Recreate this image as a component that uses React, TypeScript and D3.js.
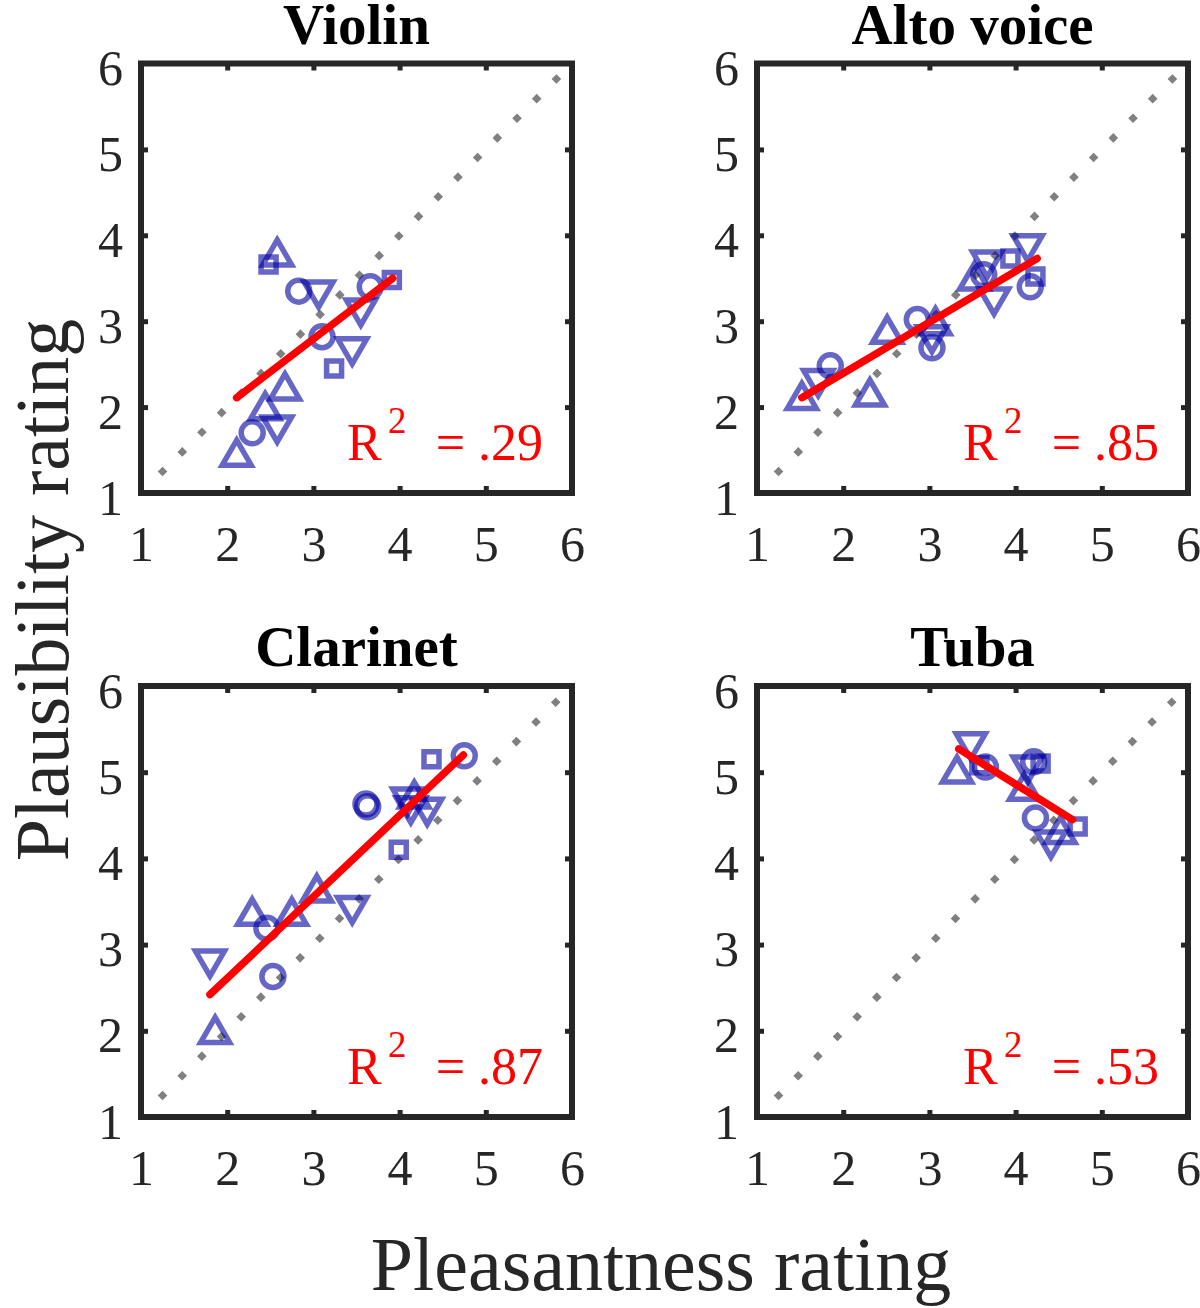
import { useEffect, useRef } from "react";
import * as d3 from "d3";

type Mark = "o" | "s" | "^" | "v";
type Pt = [number, number, Mark];

// x = pleasantness, y = plausibility, marker type
const violinPts: Pt[] = [
  [2.58, 3.8, "^"], [2.48, 3.66, "s"], [2.83, 3.35, "o"], [3.06, 3.31, "v"],
  [3.66, 3.4, "o"], [3.91, 3.48, "s"], [3.55, 3.1, "v"], [3.1, 2.82, "o"],
  [3.45, 2.65, "v"], [3.24, 2.45, "s"], [2.67, 2.24, "^"], [2.44, 2.01, "^"],
  [2.58, 1.74, "v"], [2.29, 1.7, "o"], [2.11, 1.47, "^"],
];
const altoPts: Pt[] = [
  [1.52, 2.13, "^"], [1.71, 2.28, "v"], [1.85, 2.48, "o"], [2.31, 2.17, "^"],
  [2.51, 2.9, "^"], [2.86, 3.02, "o"], [3.07, 3.0, "^"], [3.03, 2.79, "v"],
  [3.03, 2.69, "o"], [3.52, 3.52, "^"], [3.63, 3.54, "o"], [3.67, 3.66, "v"],
  [3.94, 3.73, "s"], [4.14, 3.85, "v"], [3.75, 3.23, "v"], [4.23, 3.52, "s"],
  [4.17, 3.4, "o"],
];
const clarinetPts: Pt[] = [
  [4.75, 5.19, "o"], [4.37, 5.15, "s"], [3.61, 4.63, "o"], [3.63, 4.6, "o"],
  [4.17, 4.74, "^"], [4.09, 4.66, "v"], [4.13, 4.56, "v"], [4.32, 4.54, "v"],
  [3.99, 4.1, "s"], [3.04, 3.65, "^"], [3.45, 3.4, "v"], [2.75, 3.38, "^"],
  [2.29, 3.38, "^"], [2.46, 3.19, "o"], [1.8, 2.78, "v"], [2.53, 2.63, "o"],
  [1.86, 2.01, "^"],
];
const tubaPts: Pt[] = [
  [3.48, 5.3, "v"], [3.32, 5.03, "^"], [3.58, 5.08, "s"], [3.65, 5.06, "o"],
  [4.14, 5.03, "v"], [4.21, 5.12, "o"], [4.29, 5.1, "s"], [4.1, 4.83, "^"],
  [4.23, 4.47, "o"], [4.52, 4.33, "^"], [4.72, 4.37, "s"], [4.41, 4.16, "v"],
];

// regression line end points
const violinFit = [[2.11, 2.11], [3.92, 3.5]];
const altoFit = [[1.52, 2.11], [4.25, 3.73]];
const clarinetFit = [[1.8, 2.42], [4.74, 5.2]];
const tubaFit = [[3.34, 5.27], [4.66, 4.45]];

const titles = ["Violin", "Alto voice", "Clarinet", "Tuba"];
const r2Labels = [".29", ".85", ".87", ".53"];
const ticks = [1, 2, 3, 4, 5, 6];

const pointSets = [violinPts, altoPts, clarinetPts, tubaPts];
const fitSets = [violinFit, altoFit, clarinetFit, tubaFit];

const FONT = "'Liberation Serif', 'Times New Roman', Times, serif";
const AXIS = "#262626";
const BLUE = "#0000a0";

function markerPath(m: Mark) {
  if (m === "^") return "M0,-12.5L14.5,12.5L-14.5,12.5Z";
  if (m === "v") return "M0,12.5L14.5,-12.5L-14.5,-12.5Z";
  if (m === "s") return "M-7.5,-7.5H7.5V7.5H-7.5Z";
  return "M11,0A11,11 0 1,1 -11,0A11,11 0 1,1 11,0Z";
}

export default function App() {
  const ref = useRef<SVGSVGElement | null>(null);

  useEffect(() => {
    const svg = d3.select(ref.current);
    svg.selectAll("*").remove();
    const width = 1200;
    const height = 1308;
    svg.attr("width", width).attr("height", height).attr("viewBox", `0 0 ${width} ${height}`);

    const cols = [[141, 572], [757, 1188]];
    const rows = [[63.5, 493], [686, 1117]];

    pointSets.forEach((pts, i) => {
      const [x0, x1] = cols[i % 2];
      const [y0, y1] = rows[Math.floor(i / 2)];
      const x = d3.scaleLinear().domain([1, 6]).range([x0, x1]);
      const y = d3.scaleLinear().domain([1, 6]).range([y1, y0]);
      const g = svg.append("g");

      // identity line (dotted)
      g.append("line")
        .attr("x1", x(1.2)).attr("y1", y(1.2))
        .attr("x2", x(6)).attr("y2", y(6))
        .attr("stroke", "#808080")
        .attr("stroke-width", 6.8)
        .attr("stroke-dasharray", "6.8 21")
        .attr("stroke-dashoffset", -2.7);

      // markers
      g.selectAll("path.mk")
        .data(pts)
        .enter()
        .append("path")
        .attr("class", "mk")
        .attr("d", (d) => markerPath(d[2]))
        .attr("transform", (d) => `translate(${x(d[0])},${y(d[1])})`)
        .attr("fill", "none")
        .attr("stroke", BLUE)
        .attr("stroke-opacity", 0.6)
        .attr("stroke-width", 5.5)
        .attr("stroke-linejoin", "miter");

      // fit line
      const fit = fitSets[i];
      g.append("line")
        .attr("x1", x(fit[0][0])).attr("y1", y(fit[0][1]))
        .attr("x2", x(fit[1][0])).attr("y2", y(fit[1][1]))
        .attr("stroke", "#ff0000")
        .attr("stroke-width", 7.5)
        .attr("stroke-linecap", "round");

      // frame
      g.append("rect")
        .attr("x", x0).attr("y", y0)
        .attr("width", x1 - x0).attr("height", y1 - y0)
        .attr("fill", "none")
        .attr("stroke", AXIS)
        .attr("stroke-width", 6);

      const styleAxis = (a: d3.Selection<SVGGElement, unknown, null, undefined>) => {
        a.select(".domain").remove();
        a.selectAll(".tick line").attr("stroke", AXIS).attr("stroke-width", 5);
        a.selectAll(".tick text")
          .attr("fill", AXIS)
          .style("font-family", FONT)
          .style("font-size", "50px");
      };
      const fmt = d3.format("d");

      g.append("g")
        .attr("transform", `translate(0,${y1})`)
        .call(d3.axisBottom(x).tickValues(ticks).tickFormat(fmt).tickSize(-7).tickSizeOuter(0).tickPadding(32))
        .call(styleAxis);
      g.append("g")
        .attr("transform", `translate(${x0},0)`)
        .call(d3.axisLeft(y).tickValues(ticks).tickFormat(fmt).tickSize(-7).tickSizeOuter(0).tickPadding(18))
        .call(styleAxis)
        .call((a) => a.selectAll(".tick text").attr("dy", "0.42em"));
      g.append("g")
        .attr("transform", `translate(0,${y0})`)
        .call(d3.axisTop(x).tickValues(ticks).tickSize(-7).tickSizeOuter(0).tickFormat(() => ""))
        .call(styleAxis);
      g.append("g")
        .attr("transform", `translate(${x1},0)`)
        .call(d3.axisRight(y).tickValues(ticks).tickSize(-7).tickSizeOuter(0).tickFormat(() => ""))
        .call(styleAxis);

      // end ticks sit on the frame corners
      g.selectAll(".tick").filter((d) => d === 1 || d === 6).select("line").remove();

      // title
      g.append("text")
        .attr("x", (x0 + x1) / 2)
        .attr("y", y0 - 20)
        .attr("text-anchor", "middle")
        .style("font-family", FONT)
        .style("font-weight", "bold")
        .style("font-size", "57px")
        .attr("fill", "#000")
        .text(titles[i]);

      // R^2 annotation
      const r2 = g.append("g").attr("fill", "#ff0000").style("font-family", FONT);
      r2.append("text")
        .attr("x", x0 + 206).attr("y", y1 - 33)
        .style("font-size", "52px")
        .text("R");
      r2.append("text")
        .attr("x", x0 + 247).attr("y", y1 - 60)
        .style("font-size", "37px")
        .text("2");
      r2.append("text")
        .attr("x", x1 - 29).attr("y", y1 - 33)
        .attr("text-anchor", "end")
        .style("font-size", "52px")
        .text(`= ${r2Labels[i]}`);
    });

    // shared axis labels
    svg.append("text")
      .attr("x", 661).attr("y", 1290)
      .attr("text-anchor", "middle")
      .style("font-family", FONT)
      .style("font-size", "76px")
      .attr("fill", AXIS)
      .text("Pleasantness rating");
    svg.append("text")
      .attr("transform", "translate(68,590) rotate(-90)")
      .attr("text-anchor", "middle")
      .style("font-family", FONT)
      .style("font-size", "76px")
      .attr("fill", AXIS)
      .text("Plausibility rating");
  }, []);

  return (
    <svg
      ref={ref}
      style={{ position: "absolute", left: 0, top: 0, display: "block", background: "#fff" }}
    />
  );
}
